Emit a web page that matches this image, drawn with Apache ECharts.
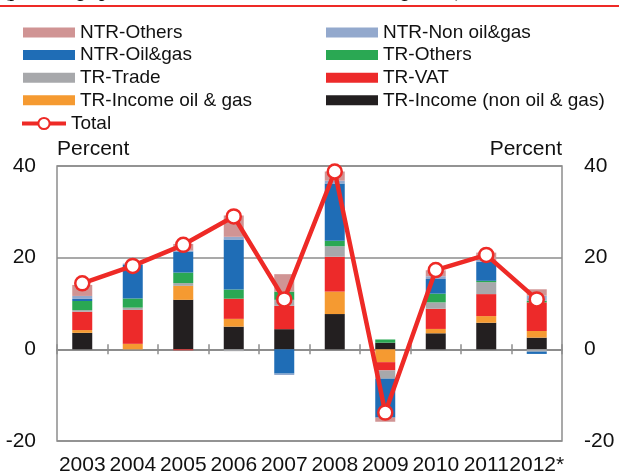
<!DOCTYPE html>
<html>
<head>
<meta charset="utf-8">
<script src="https://cdn.jsdelivr.net/npm/echarts@6/dist/echarts.min.js"></script>
<style>
  html, body { margin: 0; padding: 0; background: #fff; }
  #chart { width: 619px; height: 476px; }
</style>
</head>
<body>
<div id="chart"></div>
<script>
// ── DATA ───────────────────────────────────────────
const years = ['2003', '2004', '2005', '2006', '2007', '2008', '2009', '2010', '2011', '2012*'];
const yTicks = [-20, 0, 20, 40];

// stacked from the bottom up (reverse of legend order)
const trIncomeNonOil = [3.6, 0, 10.8, 4.95, 4.4, 7.7, 1.45, 3.5, 5.8, 2.55];
const trIncomeOil    = [0.6, 1.2, 3.05, 1.7, 0, 4.9, -2.8, 0.95, 1.45, 1.45];
const trVat          = [4.0, 7.4, -0.2, 4.4, 5.1, 7.6, -1.8, 4.4, 4.8, 6.25];
const trTrade        = [0.35, 0.5, 0.6, -0.4, 1.3, 2.3, -1.8, 1.4, 2.6, -0.5];
const trOthers       = [2.0, 2.0, 2.3, 2.0, 1.8, 1.2, 0.7, 1.9, 0.3, 0.35];
const ntrOilGas      = [0.45, 7.3, 4.6, 10.9, -5.3, 12.5, -8.5, 3.2, 4.15, -0.5];
const ntrNonOilGas   = [0.65, 0.3, 0.2, 0.6, -0.3, 0.6, 0, 0.6, 0.4, 1.1];
const ntrOthers      = [2.4, 0, 1.45, 4.65, 3.8, 2.0, -0.9, 1.3, 1.6, 1.4];
const total          = [14.4, 18.2, 22.8, 29.0, 10.9, 38.8, -13.8, 17.3, 20.6, 10.9];

const FONT = "'Liberation Sans', Arial, sans-serif";
const AXIS_GRAY = '#8d8d8d';
const LINE_RED = '#ee2a26';

const barDefs = [
  ['TR-Income (non oil & gas)', trIncomeNonOil, '#231f20'],
  ['TR-Income oil & gas',       trIncomeOil,    '#f59a31'],
  ['TR-VAT',                    trVat,          '#ed2a2a'],
  ['TR-Trade',                  trTrade,        '#a7a8ab'],
  ['TR-Others',                 trOthers,       '#2aa853'],
  ['NTR-Oil&gas',               ntrOilGas,      '#1f6db6'],
  ['NTR-Non oil&gas',           ntrNonOilGas,   '#93a9cd'],
  ['NTR-Others',                ntrOthers,      '#d09494'],
];

const barSeries = barDefs.map(([name, data, color]) => ({
  name, type: 'bar', stack: 'rev', data,
  barWidth: 20,
  itemStyle: { color },
  emphasis: { disabled: true },
}));

const legendBase = {
  orient: 'vertical', padding: 0, itemGap: 3.6,
  itemWidth: 52, itemHeight: 10, icon: 'rect',
  selectedMode: false,
  textStyle: { fontFamily: FONT, fontSize: 19, color: '#111' },
};

const tickLabel = { fontFamily: FONT, fontSize: 21, color: '#111' };

const chart = echarts.init(document.getElementById('chart'), null, { renderer: 'canvas' });

chart.setOption({
  animation: false,
  backgroundColor: '#fff',
  grid: {
    left: 57, right: 57, top: 166, bottom: 34,
    show: true, borderColor: AXIS_GRAY, borderWidth: 1.5,
  },
  legend: [
    { ...legendBase, left: 23, top: 23,
      data: ['NTR-Others', 'NTR-Oil&gas', 'TR-Trade', 'TR-Income oil & gas'] },
    { ...legendBase, left: 326, top: 23,
      data: ['NTR-Non oil&gas', 'TR-Others', 'TR-VAT', 'TR-Income (non oil & gas)'] },
    { ...legendBase, left: 20, top: 114, itemWidth: 44, itemHeight: 14, icon: null,
      lineStyle: { width: 4 }, itemStyle: { borderWidth: 2 },
      data: ['Total'] },
  ],
  xAxis: [
    { // labels on the bottom border
      type: 'category', data: years, position: 'bottom',
      axisLine: { onZero: false, show: false },
      axisTick: { show: false },
      axisLabel: { ...tickLabel, margin: 14, interval: 0, hideOverlap: false },
    },
    { // zero line, ticks going down
      type: 'category', data: years, position: 'bottom',
      axisLine: { onZero: true, lineStyle: { color: AXIS_GRAY, width: 2 } },
      axisTick: { show: true, length: 5, lineStyle: { color: AXIS_GRAY, width: 1.5 } },
      axisLabel: { show: false },
    },
    { // ticks going up
      type: 'category', data: years, position: 'bottom',
      axisLine: { onZero: true, show: false },
      axisTick: { show: true, inside: true, length: 5, lineStyle: { color: AXIS_GRAY, width: 1.5 } },
      axisLabel: { show: false },
    },
  ],
  yAxis: [
    {
      type: 'value', min: yTicks[0], max: yTicks[yTicks.length - 1], interval: 20,
      name: 'Percent', nameLocation: 'end', nameGap: 6,
      nameTextStyle: { fontFamily: FONT, fontSize: 21, color: '#111', align: 'left', verticalAlign: 'bottom' },
      axisLine: { show: false }, axisTick: { show: false },
      axisLabel: { ...tickLabel, margin: 21 },
      splitLine: { lineStyle: { color: AXIS_GRAY, width: 1.5 } },
    },
    {
      type: 'value', min: yTicks[0], max: yTicks[yTicks.length - 1], interval: 20,
      position: 'right',
      name: 'Percent', nameLocation: 'end', nameGap: 6,
      nameTextStyle: { fontFamily: FONT, fontSize: 21, color: '#111', align: 'right', verticalAlign: 'bottom' },
      axisLine: { show: false }, axisTick: { show: false },
      axisLabel: { ...tickLabel, margin: 22 },
      splitLine: { show: false },
    },
  ],
  series: [
    ...barSeries,
    {
      name: 'Total', type: 'line', data: total, z: 5,
      symbol: 'circle', symbolSize: 14,
      lineStyle: { color: LINE_RED, width: 4.5 },
      itemStyle: { color: '#fff', borderColor: LINE_RED, borderWidth: 2.5 },
      emphasis: { disabled: true },
    },
  ],
  graphic: [
    { // clipped title above the rule
      type: 'text', left: 4, top: -17.5, z: 10,
      style: {
        text: '(percentage points contribution to annual revenue growth)',
        font: "italic bold 19px 'Liberation Serif', 'Times New Roman', serif",
        fill: '#111',
      },
    },
    {
      type: 'rect', shape: { x: 0, y: 5, width: 619, height: 2 }, z: 11,
      style: { fill: LINE_RED },
    },
  ],
});
</script>
</body>
</html>
